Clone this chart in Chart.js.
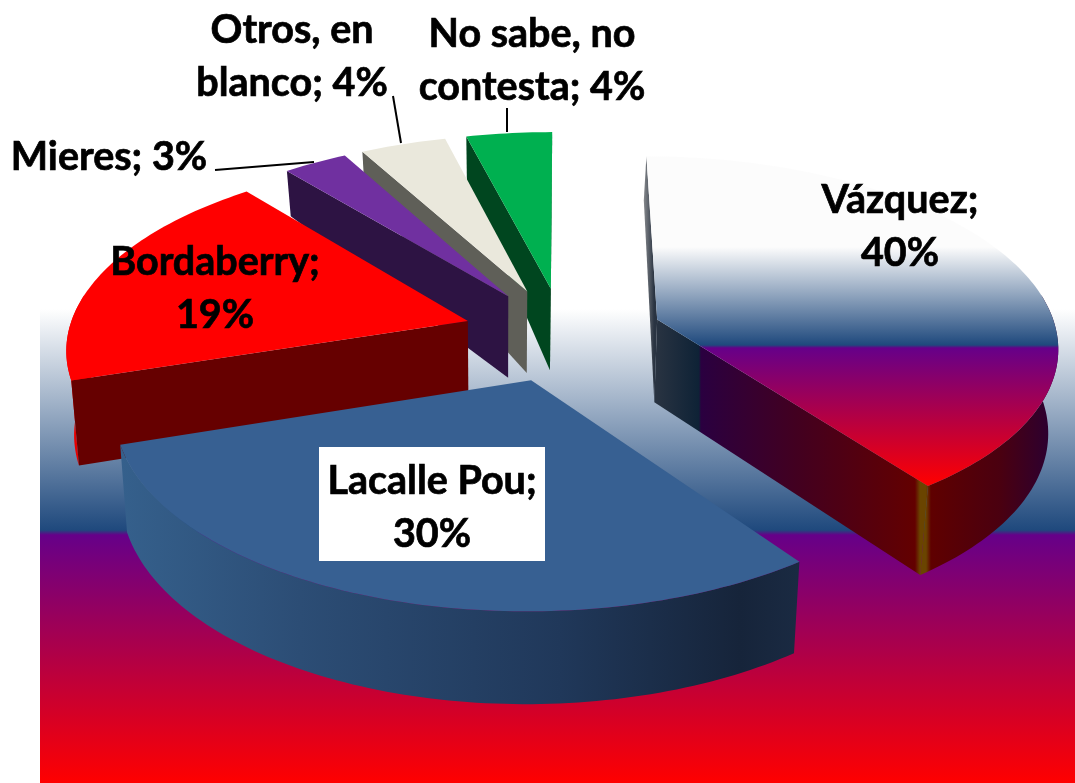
<!DOCTYPE html>
<html lang="es">
<head>
  <meta charset="UTF-8" />
  <title>Intención de voto</title>
  <script src="https://cdn.jsdelivr.net/npm/chart.js"></script>
  <style>
    html, body { margin: 0; padding: 0; background: #fff; }
    #grafico { display: block; }
  </style>
</head>
<body>
  <canvas id="grafico" width="1075" height="783"></canvas>
  <script>
    // Datos
    const categorias = ['Vázquez', 'Lacalle Pou', 'Bordaberry', 'Mieres', 'Otros, en blanco', 'No sabe, no contesta'];
    const valores = [40, 30, 19, 3, 4, 4];
    const etiquetas = [
      ['Vázquez;', '40%'],
      ['Lacalle Pou;', '30%'],
      ['Bordaberry;', '19%'],
      ['Mieres; 3%'],
      ['Otros, en', 'blanco; 4%'],
      ['No sabe, no', 'contesta; 4%']
    ];

    // Colores de cara y paredes
    const coloresCara = ['#fff', '#376092', '#ff0000', '#7030a0', '#eae8dc', '#00b050'];
    const coloresPared = ['vazquez', 'lacalle', '#660000', '#2d1343', '#5f5f58', '#00461f'];
    const coloresBorde = ['vazquez', 'lacalle', '#e80000', '#2d1343', '#5f5f58', '#00461f'];

    // Camara: plano de la torta (radio 1) a pixeles
    const camara = { cx: 563, cy: 334, ancho: 400, alto: 188, fuga: 0.13 };
    const separacion = 0.25;

    function proyectar(X, Y) {
      const w = 1 / (1 - camara.fuga * Y);
      return [camara.cx + camara.ancho * X * w, camara.cy + camara.alto * Y * w];
    }

    function alturaPared(Y) {
      if (Y < -1) return 44;
      if (Y < -0.3) return 44 + (Y + 1) * 53;
      return 81 + (Y + 0.3) * 7.7;
    }

    function base(X, Y) {
      const p = proyectar(X, Y);
      return [p[0] - (p[0] - 500) * 0.018, p[1] + alturaPared(Y)];
    }

    function relleno(ctx, nombre) {
      const tablas = {
        vazquez: [[640, '#a8a8a8'], [654, '#2a3442'], [699, '#0e2236'], [701, '#2a0040'], [800, '#43001f'],
                  [915, '#630000'], [920, '#6a4400'], [926, '#6a4400'], [931, '#5f0000'], [1000, '#4a0010'], [1050, '#2c0030']],
        lacalle: [[120, '#35608c'], [300, '#2c4d75'], [560, '#20385a'], [740, '#16243a'], [797, '#1a2a42']]
      };
      const tabla = tablas[nombre];
      if (!tabla) return nombre;
      const g = ctx.createLinearGradient(tabla[0][0], 0, tabla[tabla.length - 1][0], 0);
      const total = tabla[tabla.length - 1][0] - tabla[0][0];
      tabla.forEach(t => g.addColorStop((t[0] - tabla[0][0]) / total, t[1]));
      return g;
    }

    function poligono(ctx, puntos, color) {
      ctx.beginPath();
      puntos.forEach((p, k) => k ? ctx.lineTo(p[0], p[1]) : ctx.moveTo(p[0], p[1]));
      ctx.closePath();
      ctx.fillStyle = color;
      ctx.fill();
    }

    // La pared lateral se ve solo si la cara queda por encima de su arista
    function paredVisible(a, b, m) {
      const dx = b[0] - a[0];
      const dy = b[1] - a[1];
      return (dx * (m[1] - a[1]) - dy * (m[0] - a[0])) * dx < 0;
    }

    // Torta 3D: usa los angulos de los arcos que calcula Chart.js
    class Torta3D extends Chart.PieController {
      draw() {
        const ctx = this.chart.ctx;
        const arcos = this._cachedMeta.data.map((arco, i) => {
          const medio = (arco.startAngle + arco.endAngle) / 2;
          return { arco, i, ox: separacion * Math.cos(medio), oy: separacion * Math.sin(medio) };
        });
        arcos.sort((a, b) => a.oy - b.oy);

        arcos.forEach(({ arco, i, ox, oy }) => {
          const angulos = [];
          const pasos = Math.ceil((arco.endAngle - arco.startAngle) / 0.02);
          for (let k = 0; k <= pasos; k++) {
            angulos.push(arco.startAngle + (arco.endAngle - arco.startAngle) * k / pasos);
          }
          const arriba = angulos.map(t => proyectar(ox + Math.cos(t), oy + Math.sin(t)));
          const abajo = angulos.map(t => base(ox + Math.cos(t), oy + Math.sin(t)));
          const centroA = proyectar(ox, oy);
          const centroB = base(ox, oy);
          const medio = arriba[Math.round(pasos / 2)];
          const pared = relleno(ctx, coloresPared[i]);

          // borde curvo: solo la parte que mira hacia adelante
          const frente = angulos.map((t, k) => k).filter(k => Math.sin(angulos[k]) > -0.15);
          if (frente.length > 1) {
            const sup = frente.map(k => arriba[k]);
            const inf = frente.map(k => abajo[k]).reverse();
            poligono(ctx, sup.concat(inf), relleno(ctx, coloresBorde[i]));
          }
          [0, pasos].forEach(k => {
            if (paredVisible(centroA, arriba[k], medio)) {
              poligono(ctx, [centroA, arriba[k], abajo[k], centroB], pared);
            }
          });
          poligono(ctx, [centroA].concat(arriba), arco.options.backgroundColor);
        });
      }
    }
    Torta3D.id = 'torta3d';
    Torta3D.defaults = {};
    Chart.register(Torta3D);

    const fondo = {
      id: 'fondo',
      beforeDraw(chart) {
        const ctx = chart.ctx;
        const g = ctx.createLinearGradient(0, 309, 0, 783);
        g.addColorStop(0, '#ffffff');
        g.addColorStop(221 / 474, '#1f497d');
        g.addColorStop(226 / 474, '#660089');
        g.addColorStop(1, '#ff0000');
        ctx.fillStyle = g;
        ctx.fillRect(40, 309, 1035, 474);
      }
    };

    // Posicion de cada etiqueta: centro y linea base de la primera linea
    const posEtiquetas = [[900, 213], [432, 494], [215, 275], [109, 170], [292, 43], [532, 47]];
    const guias = [[[215, 170], [314, 162]], [[393, 96], [401, 143]], [[507, 108], [507, 132]]];

    const rotulos = {
      id: 'rotulos',
      afterDatasetsDraw(chart) {
        const ctx = chart.ctx;
        ctx.save();
        ctx.fillStyle = '#fff';
        ctx.fillRect(319, 447, 226, 114);
        ctx.strokeStyle = '#000';
        ctx.lineWidth = 2;
        guias.forEach(g => {
          ctx.beginPath();
          ctx.moveTo(g[0][0], g[0][1]);
          ctx.lineTo(g[1][0], g[1][1]);
          ctx.stroke();
        });
        ctx.fillStyle = '#000';
        ctx.lineWidth = 0.7;
        ctx.font = 'bold 39.5px Lato';
        ctx.textAlign = 'center';
        ctx.textBaseline = 'alphabetic';
        etiquetas.forEach((lineas, i) => {
          lineas.forEach((txt, k) => {
            ctx.fillText(txt, posEtiquetas[i][0], posEtiquetas[i][1] + k * 53);
            ctx.strokeText(txt, posEtiquetas[i][0], posEtiquetas[i][1] + k * 53);
          });
        });
        ctx.restore();
      }
    };

    const grafico = new Chart(document.getElementById('grafico'), {
      type: 'torta3d',
      data: {
        labels: categorias,
        datasets: [{
          data: valores,
          borderWidth: 0,
          backgroundColor: (c) => {
            if (c.dataIndex !== 0) return coloresCara[c.dataIndex];
            const g = c.chart.ctx.createLinearGradient(0, 155, 0, 485);
            g.addColorStop(0, '#fcfcfc');
            g.addColorStop(92 / 330, '#fcfcfc');
            g.addColorStop(190 / 330, '#1f497d');
            g.addColorStop(193 / 330, '#660089');
            g.addColorStop(1, '#ff0000');
            return g;
          }
        }]
      },
      options: {
        responsive: false,
        animation: false,
        plugins: { legend: { display: false }, tooltip: { enabled: false } }
      },
      plugins: [fondo, rotulos]
    });
  </script>
</body>
</html>
